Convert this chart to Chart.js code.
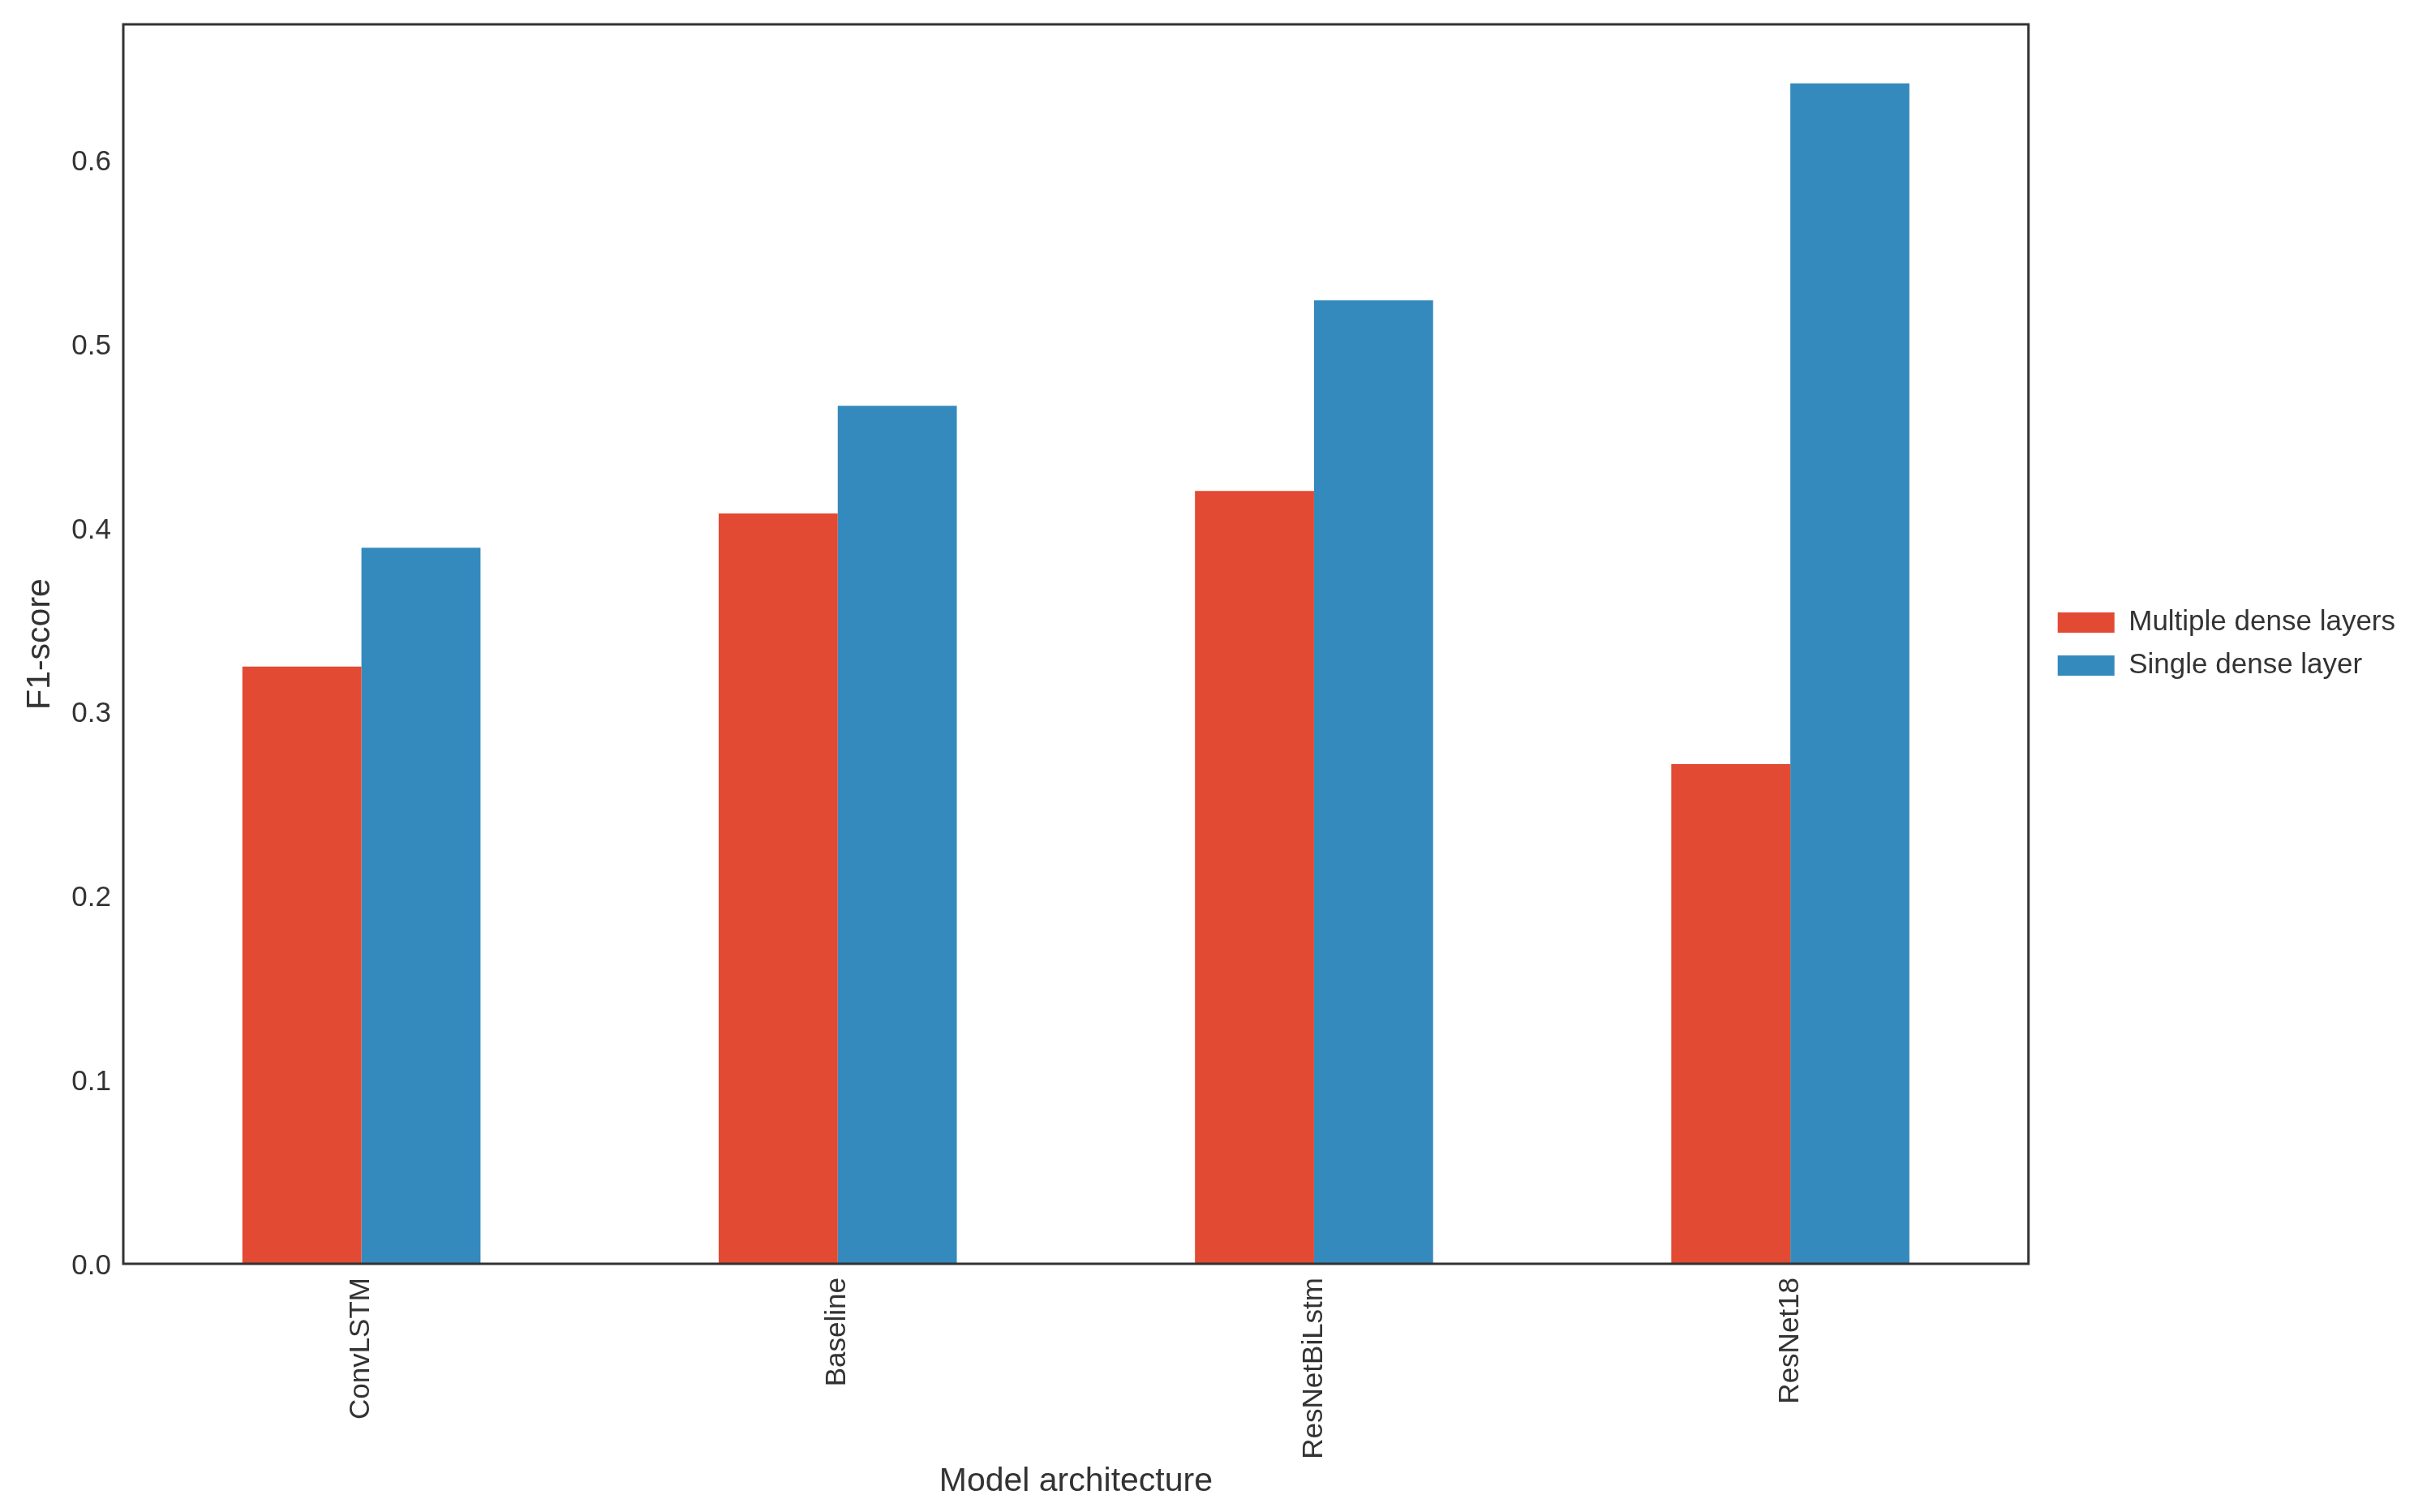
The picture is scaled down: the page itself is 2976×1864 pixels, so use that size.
<!DOCTYPE html>
<html>
<head>
<meta charset="utf-8">
<script src="https://cdn.jsdelivr.net/npm/chart.js@4/dist/chart.umd.min.js"></script>
<style>
  html, body { margin: 0; padding: 0; background: #ffffff; }
  #wrap { width: 2976px; height: 1864px; }
</style>
</head>
<body>
<div id="wrap"><canvas id="c" width="2976" height="1864"></canvas></div>
<script>
const categories = ["ConvLSTM", "Baseline", "ResNetBiLstm", "ResNet18"];
const seriesNames = ["Multiple dense layers", "Single dense layer"];
const multipleDense = [0.3247, 0.4080, 0.4202, 0.2717];
const singleDense = [0.3893, 0.4665, 0.5238, 0.6418];
const xTitle = "Model architecture";
const yTitle = "F1-score";

const FONT = "'Liberation Sans', Arial, Helvetica, sans-serif";
const TEXT = "#333333";

const yMax = Math.max(...multipleDense, ...singleDense) * 1.05;

const framePlugin = {
  id: 'frame',
  beforeDraw(chart) {
    const c = chart.ctx;
    c.save();
    c.fillStyle = '#ffffff';
    c.fillRect(0, 0, chart.width, chart.height);
    c.restore();
  },
  afterDatasetsDraw(chart) {
    const a = chart.chartArea;
    const c = chart.ctx;
    c.save();
    c.strokeStyle = '#333333';
    c.lineWidth = 3;
    c.strokeRect(a.left, a.top, a.right - a.left, a.bottom - a.top);
    c.restore();
  }
};

function noPad(scale) {
  scale.paddingTop = 0; scale.paddingBottom = 0;
  scale.paddingLeft = 0; scale.paddingRight = 0;
}

new Chart(document.getElementById('c'), {
  type: 'bar',
  data: {
    labels: categories,
    datasets: [
      { label: seriesNames[0], data: multipleDense, backgroundColor: '#E24A33', borderWidth: 0,
        categoryPercentage: 0.5, barPercentage: 1.0 },
      { label: seriesNames[1], data: singleDense, backgroundColor: '#348ABD', borderWidth: 0,
        categoryPercentage: 0.5, barPercentage: 1.0 }
    ]
  },
  options: {
    responsive: false,
    animation: false,
    devicePixelRatio: 1,
    layout: { padding: { top: 30, right: 13, bottom: 0, left: 0 } },
    plugins: {
      tooltip: { enabled: false },
      legend: {
        position: 'right',
        fullSize: false,
        align: 'center',
        labels: {
          boxWidth: 70,
          boxHeight: 25,
          padding: 18,
          color: TEXT,
          font: { family: FONT, size: 35 }
        }
      }
    },
    scales: {
      x: {
        grid: { display: false, drawTicks: false },
        border: { display: false },
        ticks: {
          minRotation: 90, maxRotation: 90,
          padding: 17,
          color: TEXT,
          font: { family: FONT, size: 35 }
        },
        title: {
          display: true, text: xTitle, color: TEXT,
          font: { family: FONT, size: 41 },
          padding: { top: 0, bottom: 13 }
        },
        afterFit(scale) { scale.height = 306; noPad(scale); }
      },
      y: {
        min: 0,
        max: yMax,
        grid: { display: false, drawTicks: false },
        border: { display: false },
        ticks: {
          stepSize: 0.1,
          includeBounds: false,
          padding: 15,
          labelOffset: 3,
          color: TEXT,
          font: { family: FONT, size: 35 },
          callback: (v) => Number(v).toFixed(1)
        },
        title: {
          display: true, text: yTitle, color: TEXT,
          font: { family: FONT, size: 41 },
          padding: { top: 25, bottom: 0 }
        },
        afterFit(scale) { scale.width = 152; noPad(scale); }
      },
      spacer: {
        type: 'linear',
        position: 'right',
        display: true,
        grid: { display: false, drawTicks: false },
        border: { display: false },
        ticks: { display: false },
        afterFit(scale) { scale.width = 18; noPad(scale); }
      }
    }
  },
  plugins: [framePlugin]
});
</script>
</body>
</html>
